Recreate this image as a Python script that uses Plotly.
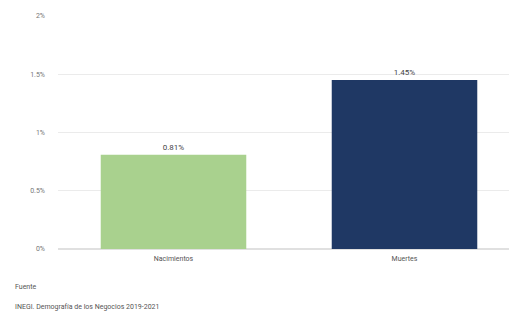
import plotly.graph_objects as go

categories = ["Nacimientos", "Muertes"]
values = [0.81, 1.45]
labels = ["0.81%", "1.45%"]
colors = ["#a9d18e", "#1f3864"]
tick_vals = [0, 0.5, 1, 1.5, 2]
tick_text = ["0%", "0.5%", "1%", "1.5%", "2%"]

L, R, T, B = 50, 5, 8, 79
W, H = 517, 320
plot_w = W - L - R
plot_h = H - T - B

fig = go.Figure(go.Bar(
    x=categories, y=values, text=labels, textposition="outside",
    marker=dict(color=colors, line=dict(width=0)),
    width=0.63, cliponaxis=False,
    textfont=dict(family="Roboto", size=8, color="#444444"),
))

footer = [("Fuente", 279), ("INEGI. Demografía de los Negocios 2019-2021", 299)]
anns = [dict(text=t, xref="paper", yref="paper", x=(5 - L) / plot_w, xanchor="left",
             y=(H - B - py) / plot_h, yanchor="middle", showarrow=False,
             font=dict(size=7, color="#555555", family="Roboto")) for t, py in footer]

fig.update_layout(
    width=W, height=H, paper_bgcolor="white", plot_bgcolor="white",
    margin=dict(l=L, r=R, t=T, b=B), showlegend=False,
    font=dict(family="Roboto", size=7, color="#666666"),
    xaxis=dict(showgrid=False, showline=False, ticks="", tickfont=dict(size=7, color="#555555"),
               ticklabelstandoff=4),
    yaxis=dict(range=[0, 2], tickvals=tick_vals, ticktext=tick_text, showgrid=True,
               gridcolor="#ebebeb", gridwidth=1, zeroline=True, zerolinecolor="#e0e0e0",
               ticks="", tickfont=dict(size=7, color="#777777"), ticklabelstandoff=12),
    annotations=anns,
)
fig.write_html("out.html")
